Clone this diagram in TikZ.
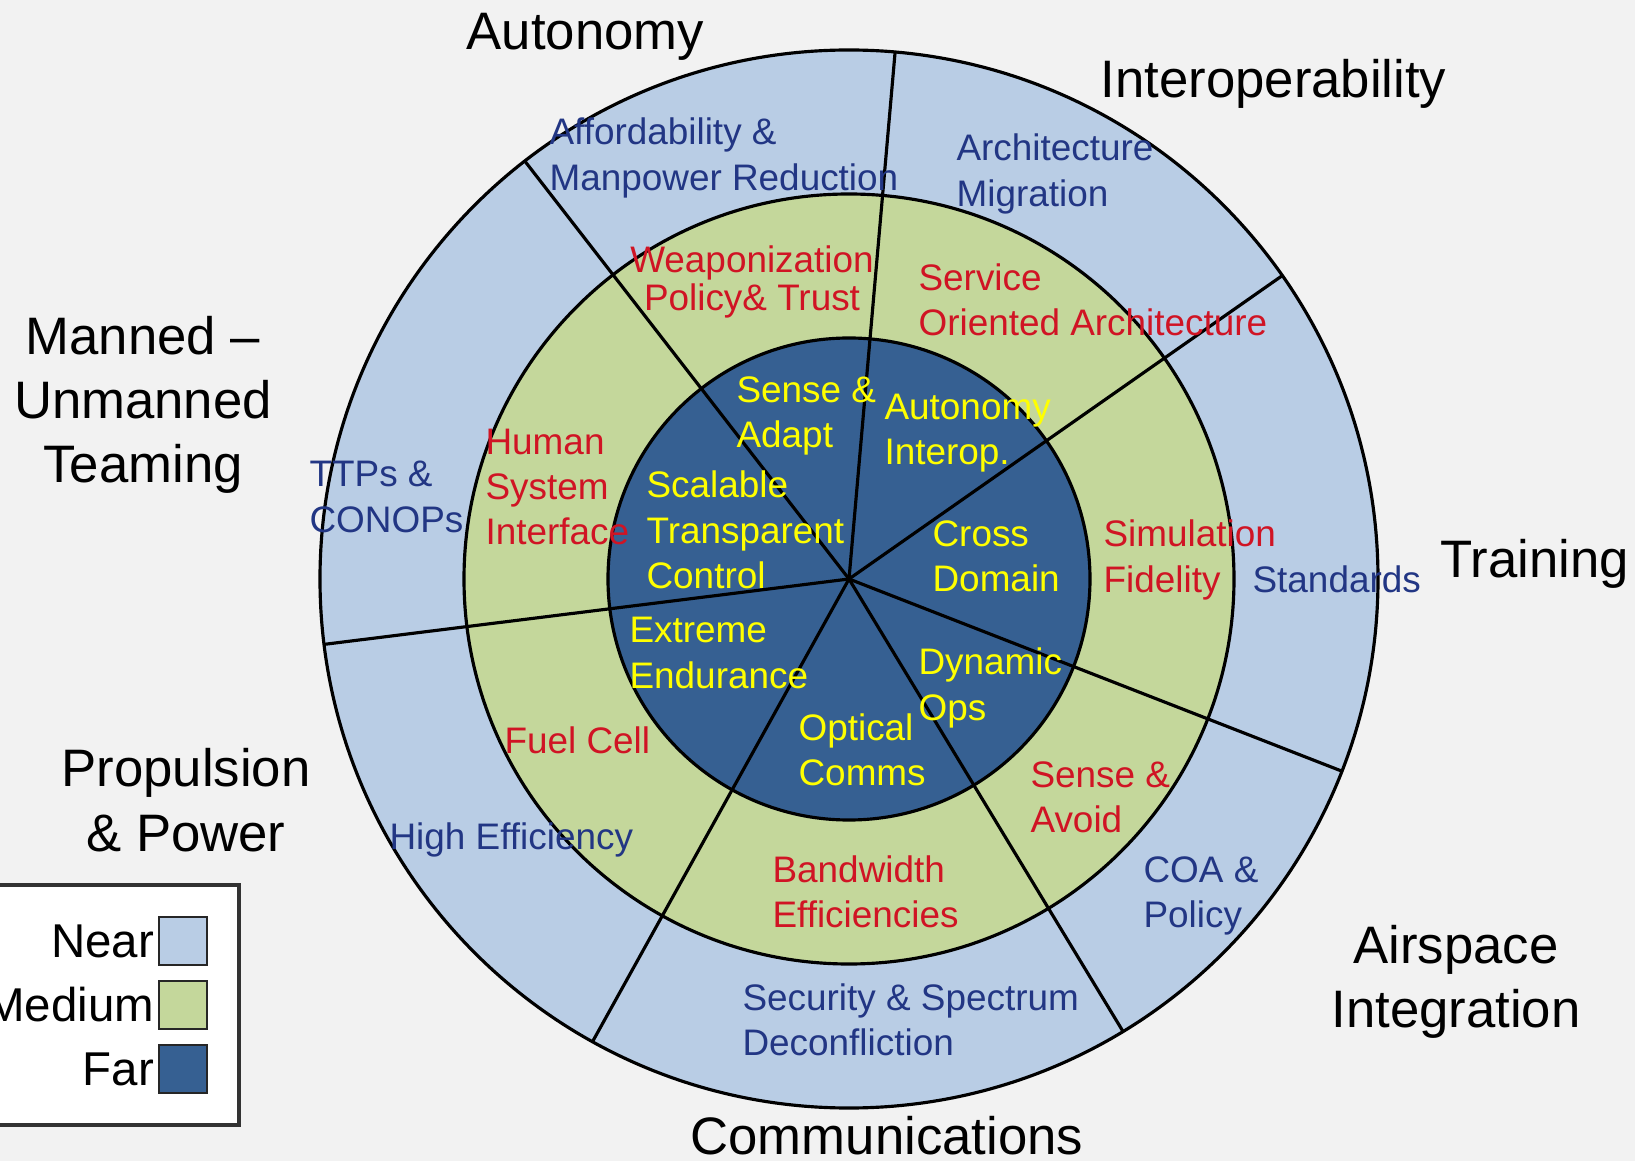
\documentclass[tikz,border=0pt]{standalone}
\usepackage{fontspec}
\setmainfont{Liberation Sans}
\usetikzlibrary{calc}

\definecolor{nearblue}{RGB}{185,205,229}
\definecolor{medgreen}{RGB}{196,215,155}
\definecolor{farblue}{RGB}{54,96,146}
\definecolor{pagegray}{RGB}{242,242,242}
\definecolor{neartext}{RGB}{34,54,132}
\definecolor{medtext}{RGB}{208,20,36}
\definecolor{fartext}{RGB}{255,255,0}

\tikzset{
  ringlbl/.style={anchor=west, align=left, inner sep=0pt, font=\fontsize{10.5}{12.9}\selectfont},
  nearlbl/.style={ringlbl, text=neartext},
  medlbl/.style={ringlbl, text=medtext},
  farlbl/.style={ringlbl, text=fartext},
  arealbl/.style={inner sep=0pt, align=center, font=\fontsize{15}{18.3}\selectfont},
  keylbl/.style={anchor=east, inner sep=0pt, font=\fontsize{13.5}{16}\selectfont},
  keybox/.style={draw=black!85, line width=0.8pt, minimum size=0.48cm, inner sep=0pt},
}

\begin{document}
\begin{tikzpicture}[line width=0.9pt]

\useasboundingbox (-8.49,-5.82) rectangle (7.86,5.79);
\clip (-8.49,-5.82) rectangle (7.86,5.79);
\fill[pagegray] (-8.49,-5.82) rectangle (7.86,5.79);

% Rings
\coordinate (c) at (0,0);
\draw[fill=nearblue] (c) circle (5.29);
\draw[fill=medgreen] (c) circle (3.85);
\draw[fill=farblue] (c) circle (2.41);

% Sector borders
\foreach \ang/\i in {35/1, 85/2, 127.8/3, 187.1/4, 241/5, 301.2/6, 338.7/7}
  \coordinate (s\i) at (\ang:5.29);
\foreach \i in {1,...,7} \draw (c) -- (s\i);

% Near (outer ring)
\foreach \x/\y/\name/\txt in {
  -3.01/4.21/afford/{Affordability \&\\Manpower Reduction},
  1.06/4.05/archmig/{Architecture\\Migration},
  -5.41/0.82/ttps/{TTPs \&\\CONOPs},
  4.02/0.0/standards/{Standards},
  -4.61/-2.61/higheff/{High Efficiency},
  2.93/-3.17/coa/{COA \&\\Policy},
  -1.08/-4.41/security/{Security \& Spectrum\\Deconfliction}}
  \node[nearlbl] (\name) at (\x,\y) {\txt};

% Medium (middle ring)
\node[medlbl, anchor=center, align=center, font=\fontsize{10.5}{10.9}\selectfont]
  (weapon) at (-0.97,2.97) {Weaponization\\Policy\& Trust};
\foreach \x/\y/\name/\txt in {
  0.68/2.79/service/{Service\\Oriented Architecture},
  -3.65/0.92/human/{Human\\System\\Interface},
  2.53/0.19/simfid/{Simulation\\Fidelity},
  -3.46/-1.61/fuel/{Fuel Cell},
  1.80/-2.18/senseavoid/{Sense \&\\Avoid},
  -0.78/-3.13/bandwidth/{Bandwidth\\Efficiencies}}
  \node[medlbl] (\name) at (\x,\y) {\txt};

% Far (inner disc)
\foreach \x/\y/\name/\txt in {
  -1.14/1.63/senseadapt/{Sense \&\\Adapt},
  0.34/1.46/autointerop/{Autonomy\\Interop.},
  -2.04/0.49/scalable/{Scalable\\Transparent\\Control},
  0.82/0.23/cross/{Cross\\Domain},
  -2.21/-0.74/extreme/{Extreme\\Endurance},
  0.68/-1.09/dynamic/{Dynamic\\Ops},
  -0.52/-1.71/optical/{Optical\\Comms}}
  \node[farlbl] (\name) at (\x,\y) {\txt};

% Area titles
\node[arealbl, anchor=west] (autonomy) at (-3.84,5.42) {Autonomy};
\node[arealbl, anchor=west] (interop) at (2.50,4.95) {Interoperability};
\node[arealbl] (mut) at (-7.06,1.74) {Manned –\\Unmanned\\Teaming};
\node[arealbl, anchor=west] (training) at (5.90,0.15) {Training};
\node[arealbl] (propulsion) at (-6.63,-2.21) {Propulsion\\\& Power};
\node[arealbl] (airspace) at (6.07,-4.03) {Airspace\\Integration};
\node[arealbl, anchor=west] (comms) at (-1.60,-5.57) {Communications};

% Legend
\draw[fill=white, draw=black!80, line width=1pt] (-8.7,-3.06) rectangle (-6.10,-5.46);
\node[keybox, fill=nearblue] (knear) at (-6.66,-3.62) {};
\node[keybox, fill=medgreen] (kmed) at (-6.66,-4.26) {};
\node[keybox, fill=farblue] (kfar) at (-6.66,-4.90) {};
\node[keylbl] (tnear) at ([xshift=-0.02cm]knear.west) {Near};
\node[keylbl] (tmed) at ([xshift=-0.02cm]kmed.west) {Medium};
\node[keylbl] (tfar) at ([xshift=-0.02cm]kfar.west) {Far};

\end{tikzpicture}
\end{document}
